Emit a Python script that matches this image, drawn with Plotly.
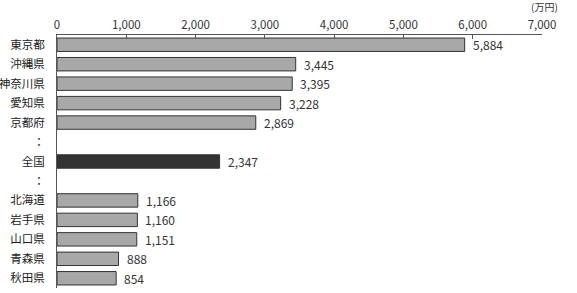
import plotly.graph_objects as go

categories = ["東京都", "沖縄県", "神奈川県", "愛知県", "京都府", "：", "全国", "：",
              "北海道", "岩手県", "山口県", "青森県", "秋田県"]
values = [5884, 3445, 3395, 3228, 2869, None, 2347, None, 1166, 1160, 1151, 888, 854]
highlight = [False, False, False, False, False, False, True, False, False, False, False, False, False]
x_ticks = [0, 1000, 2000, 3000, 4000, 5000, 6000, 7000]
x_tick_labels = ["0", "1,000", "2,000", "3,000", "4,000", "5,000", "6,000", "7,000"]
unit_label = "(万円)"

ypos = list(range(len(categories)))
colors = ["#333333" if h else "#A8A8A8" for h in highlight]

FONT = "Noto Sans CJK JP"

fig = go.Figure()
fig.add_trace(go.Bar(
    x=values,
    y=ypos,
    orientation="h",
    width=0.69,
    marker=dict(color=colors, line=dict(color="#333333", width=1)),
    hoverinfo="skip",
))

for i, v in enumerate(values):
    if v is None:
        continue
    fig.add_annotation(
        x=v, y=i, xref="x", yref="y",
        text=f"{v:,}", showarrow=False,
        xanchor="left", yanchor="middle", xshift=6,
        font=dict(family=FONT, size=12, color="#333333"),
    )

fig.add_annotation(
    x=1, y=1, xref="paper", yref="paper",
    text=unit_label, showarrow=False,
    xanchor="right", yanchor="bottom", yshift=20, xshift=17,
    borderpad=0,
    font=dict(family=FONT, size=10, color="#333333"),
)

fig.update_xaxes(
    side="top", range=[0, 7000], automargin=False,
    tickvals=x_ticks, ticktext=x_tick_labels,
    showgrid=False, zeroline=False,
    showline=True, linecolor="#555555", linewidth=1,
    ticks="inside", ticklen=4, tickcolor="#555555",
    ticklabelstandoff=0,
    tickfont=dict(family=FONT, size=11.5, color="#333333"),
)
fig.update_yaxes(
    range=[len(categories) - 0.5, -0.5], automargin=False,
    tickvals=ypos, ticktext=categories,
    showgrid=False, zeroline=False,
    showline=True, linecolor="#555555", linewidth=1,
    ticks="", ticklabelstandoff=9,
    tickfont=dict(family=FONT, size=11.5, color="#222222"),
)

fig.update_layout(
    width=577, height=293,
    margin=dict(l=57, r=35, t=35, b=5),
    paper_bgcolor="white", plot_bgcolor="white",
    showlegend=False, bargap=0.3,
)

fig.write_html("out.html")
